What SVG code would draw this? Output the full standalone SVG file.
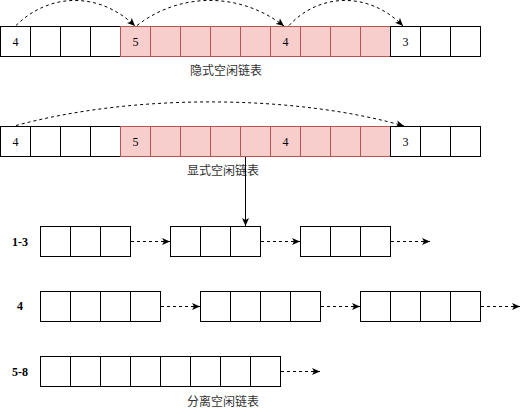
<svg xmlns="http://www.w3.org/2000/svg" width="529" height="417" viewBox="0 0 529 417">
<style>
.c{fill:#fff;stroke:#000;stroke-width:1}
.r{fill:#f8cecc;stroke:#b85450;stroke-width:1}
.n{font-family:"Liberation Serif",serif;font-size:12px;fill:#000;text-anchor:middle;dominant-baseline:central}
.l{font-family:"Liberation Serif",serif;font-size:12px;font-weight:bold;fill:#000;text-anchor:middle;dominant-baseline:central}
.t{font-family:"Liberation Sans","Noto Sans CJK SC",sans-serif;font-size:12px;fill:#333;text-anchor:middle;dominant-baseline:central}
.d{fill:none;stroke:#000;stroke-width:1;stroke-dasharray:3 3}
.s{fill:none;stroke:#000;stroke-width:1}
</style>
<defs>
<marker id="a" markerUnits="userSpaceOnUse" markerWidth="10" markerHeight="8" refX="8" refY="4" orient="auto">
<path d="M0,0.5 L8,4 L0,7.5 L2,4 Z" fill="#000"/>
</marker>
</defs>
<rect width="529" height="417" fill="#fff"/>

<g id="implicit">
<rect class="c" x="0.5" y="26.5" width="30" height="30"/>
<rect class="c" x="30.5" y="26.5" width="30" height="30"/>
<rect class="c" x="60.5" y="26.5" width="30" height="30"/>
<rect class="c" x="90.5" y="26.5" width="30" height="30"/>
<rect class="r" x="120.5" y="26.5" width="30" height="30"/>
<rect class="r" x="150.5" y="26.5" width="30" height="30"/>
<rect class="r" x="180.5" y="26.5" width="30" height="30"/>
<rect class="r" x="210.5" y="26.5" width="30" height="30"/>
<rect class="r" x="240.5" y="26.5" width="30" height="30"/>
<rect class="r" x="270.5" y="26.5" width="30" height="30"/>
<rect class="r" x="300.5" y="26.5" width="30" height="30"/>
<rect class="r" x="330.5" y="26.5" width="30" height="30"/>
<rect class="r" x="360.5" y="26.5" width="30" height="30"/>
<rect class="c" x="390.5" y="26.5" width="30" height="30"/>
<rect class="c" x="420.5" y="26.5" width="30" height="30"/>
<rect class="c" x="450.5" y="26.5" width="30" height="30"/>
<text class="n" x="15.5" y="41.5">4</text>
<text class="n" x="135.5" y="41.5">5</text>
<text class="n" x="285.5" y="41.5">4</text>
<text class="n" x="405.5" y="41.5">3</text>
<text class="t" x="226" y="71">隐式空闲链表</text>
</g>

<g id="explicit">
<rect class="c" x="0.5" y="126.5" width="30" height="30"/>
<rect class="c" x="30.5" y="126.5" width="30" height="30"/>
<rect class="c" x="60.5" y="126.5" width="30" height="30"/>
<rect class="c" x="90.5" y="126.5" width="30" height="30"/>
<rect class="r" x="120.5" y="126.5" width="30" height="30"/>
<rect class="r" x="150.5" y="126.5" width="30" height="30"/>
<rect class="r" x="180.5" y="126.5" width="30" height="30"/>
<rect class="r" x="210.5" y="126.5" width="30" height="30"/>
<rect class="r" x="240.5" y="126.5" width="30" height="30"/>
<rect class="r" x="270.5" y="126.5" width="30" height="30"/>
<rect class="r" x="300.5" y="126.5" width="30" height="30"/>
<rect class="r" x="330.5" y="126.5" width="30" height="30"/>
<rect class="r" x="360.5" y="126.5" width="30" height="30"/>
<rect class="c" x="390.5" y="126.5" width="30" height="30"/>
<rect class="c" x="420.5" y="126.5" width="30" height="30"/>
<rect class="c" x="450.5" y="126.5" width="30" height="30"/>
<text class="n" x="15.5" y="141.5">4</text>
<text class="n" x="135.5" y="141.5">5</text>
<text class="n" x="285.5" y="141.5">4</text>
<text class="n" x="405.5" y="141.5">3</text>
<text class="t" x="223" y="171">显式空闲链表</text>
</g>

<g id="seg-1-3">
<text class="l" x="20" y="241.5">1-3</text>
<rect class="c" x="40.5" y="226.5" width="30" height="30"/>
<rect class="c" x="70.5" y="226.5" width="30" height="30"/>
<rect class="c" x="100.5" y="226.5" width="30" height="30"/>
<rect class="c" x="170.5" y="226.5" width="30" height="30"/>
<rect class="c" x="200.5" y="226.5" width="30" height="30"/>
<rect class="c" x="230.5" y="226.5" width="30" height="30"/>
<rect class="c" x="300.5" y="226.5" width="30" height="30"/>
<rect class="c" x="330.5" y="226.5" width="30" height="30"/>
<rect class="c" x="360.5" y="226.5" width="30" height="30"/>
</g>

<g id="seg-4">
<text class="l" x="20" y="306">4</text>
<rect class="c" x="40.5" y="291.5" width="30" height="30"/>
<rect class="c" x="70.5" y="291.5" width="30" height="30"/>
<rect class="c" x="100.5" y="291.5" width="30" height="30"/>
<rect class="c" x="130.5" y="291.5" width="30" height="30"/>
<rect class="c" x="200.5" y="291.5" width="30" height="30"/>
<rect class="c" x="230.5" y="291.5" width="30" height="30"/>
<rect class="c" x="260.5" y="291.5" width="30" height="30"/>
<rect class="c" x="290.5" y="291.5" width="30" height="30"/>
<rect class="c" x="360.5" y="291.5" width="30" height="30"/>
<rect class="c" x="390.5" y="291.5" width="30" height="30"/>
<rect class="c" x="420.5" y="291.5" width="30" height="30"/>
<rect class="c" x="450.5" y="291.5" width="30" height="30"/>
</g>

<g id="seg-5-8">
<text class="l" x="20" y="371.5">5-8</text>
<rect class="c" x="40.5" y="356.5" width="30" height="30"/>
<rect class="c" x="70.5" y="356.5" width="30" height="30"/>
<rect class="c" x="100.5" y="356.5" width="30" height="30"/>
<rect class="c" x="130.5" y="356.5" width="30" height="30"/>
<rect class="c" x="160.5" y="356.5" width="30" height="30"/>
<rect class="c" x="190.5" y="356.5" width="30" height="30"/>
<rect class="c" x="220.5" y="356.5" width="30" height="30"/>
<rect class="c" x="250.5" y="356.5" width="30" height="30"/>
<text class="t" x="223" y="402">分离空闲链表</text>
</g>

<g id="connectors">
<path class="d" d="M16,25.5 C50,-8 100,-8 135,26" marker-end="url(#a)"/>
<path class="d" d="M137,25.5 C180,-8 240,-8 284,26" marker-end="url(#a)"/>
<path class="d" d="M289,25.5 C320,-8 370,-8 403,26" marker-end="url(#a)"/>
<path class="d" d="M16,125.5 C140,92 300,96 404,126" marker-end="url(#a)"/>
<path class="s" d="M245.5,157 L245.5,226" marker-end="url(#a)"/>
<path class="d" d="M131,241.5 L170,241.5" marker-end="url(#a)"/>
<path class="d" d="M261,241.5 L300,241.5" marker-end="url(#a)"/>
<path class="d" d="M391,241.5 L430,241.5" marker-end="url(#a)"/>
<path class="d" d="M161,306.5 L200,306.5" marker-end="url(#a)"/>
<path class="d" d="M321,306.5 L360,306.5" marker-end="url(#a)"/>
<path class="d" d="M481,306.5 L520,306.5" marker-end="url(#a)"/>
<path class="d" d="M281,371.5 L320,371.5" marker-end="url(#a)"/>
</g>
</svg>
